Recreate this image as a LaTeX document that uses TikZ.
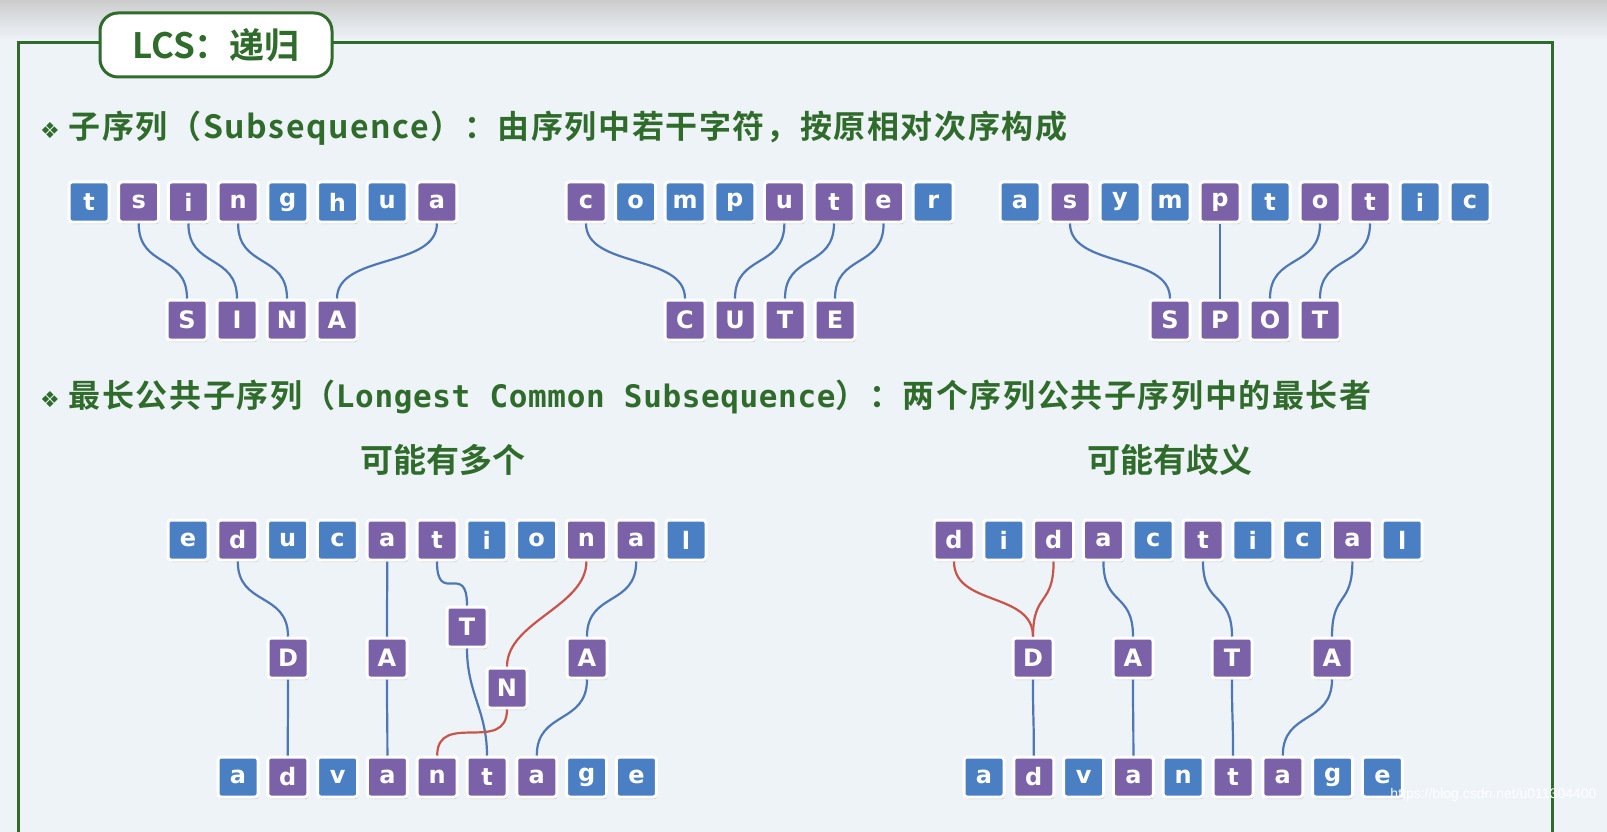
\documentclass[tikz,border=0pt]{standalone}
\usepackage{fontspec}
\setmainfont{Liberation Sans}
\newfontfamily\cjk{Noto Sans CJK SC}[BoldFont={* Bold},LetterSpace=5]
\newfontfamily\cjkt{Noto Sans CJK SC}[BoldFont={* Bold}]
\newfontfamily\dejav{DejaVu Sans}
\newfontfamily\dmono{DejaVu Sans Mono}[LetterSpace=2]
\newfontfamily\tile{DejaVu Sans}
\usetikzlibrary{shadows}
\definecolor{tb}{HTML}{4A7FC4}
\definecolor{tp}{HTML}{7B62A8}
\definecolor{gr}{HTML}{2F6B2A}
\definecolor{bgc}{HTML}{EEF3F8}
\definecolor{lk}{HTML}{4D78B5}
\definecolor{rd}{HTML}{C8544A}
\tikzset{
 x=1pt,y=-1pt,
 tilebox/.style={draw=white,line width=3pt,rounded corners=3pt,minimum width=40pt,minimum height=40pt,inner sep=0pt,
   font=\tile\fontsize{24}{24}\selectfont\bfseries,text=white,drop shadow={shadow xshift=1pt,shadow yshift=-2pt,opacity=0.35}},
 b/.style={tilebox,fill=tb},
 p/.style={tilebox,fill=tp},
 lnk/.style={draw=lk,line width=2.2pt},
 rlnk/.style={draw=rd,line width=2.2pt},
 head/.style={font=\cjk\bfseries\fontsize{32}{32}\selectfont,text=gr,anchor=west,inner sep=0pt},
}
\newcommand{\crv}[3][lnk]{\draw[#1] (#2.south) .. controls +(0,45) and +(0,-45) .. (#3.north);}
\begin{document}
\begin{tikzpicture}
\useasboundingbox (0,0) rectangle (1607,832);
\fill[bgc] (0,0) rectangle (1607,832);
\shade[top color=black!20,bottom color=bgc] (0,0) rectangle (1607,40);
\draw[gr,line width=3pt] (18,832) -- (18,43) -- (1552,43) -- (1552,832);
\node[draw=gr,line width=3pt,fill=white,rounded corners=18pt,minimum width=232pt,minimum height=64pt,
  font=\cjkt\bfseries\fontsize{35}{35}\selectfont,text=gr] (title) at (216,45) {LCS：递归};
\node[head] (h1) at (40,128) {{\dejav\fontsize{22}{22}\selectfont ❖} 子序列（{\fontsize{32}{32}\selectfont Subsequence}）：由序列中若干字符，按原相对次序构成};
\node[head] (h2) at (40,397) {{\dejav\fontsize{22}{22}\selectfont ❖} 最长公共子序列（{\dmono\bfseries\fontsize{31}{31}\selectfont Longest Common Subsequence}）：两个序列公共子序列中的最长者};
\node[head,anchor=center,font=\cjkt\bfseries\fontsize{33}{33}\selectfont] (s1) at (443,460) {可能有多个};
\node[head,anchor=center,font=\cjkt\bfseries\fontsize{33}{33}\selectfont] (s2) at (1170,460) {可能有歧义};
\foreach \ch/\c [count=\i] in {t/b,s/p,i/p,n/p,g/b,h/b,u/b,a/p}
  \node[\c] (ta\i) at ({89+49.7*(\i-1)},202) {\ch};
\foreach \ch [count=\i] in {S,I,N,A}
  \node[p] (tb\i) at ({187+50*(\i-1)},320) {\ch};
\crv{ta2}{tb1}\crv{ta3}{tb2}\crv{ta4}{tb3}\crv{ta8}{tb4}
\foreach \ch/\c [count=\i] in {c/p,o/b,m/b,p/b,u/p,t/p,e/p,r/b}
  \node[\c] (ca\i) at ({586+49.6*(\i-1)},202) {\ch};
\foreach \ch [count=\i] in {C,U,T,E}
  \node[p] (cb\i) at ({685+50*(\i-1)},320) {\ch};
\crv{ca1}{cb1}\crv{ca5}{cb2}\crv{ca6}{cb3}\crv{ca7}{cb4}
\foreach \ch/\c [count=\i] in {a/b,s/p,y/b,m/b,p/p,t/b,o/p,t/p,i/b,c/b}
  \node[\c] (aa\i) at ({1020+50*(\i-1)},202) {\ch};
\foreach \ch [count=\i] in {S,P,O,T}
  \node[p] (ab\i) at ({1170+50*(\i-1)},320) {\ch};
\crv{aa2}{ab1}\crv{aa5}{ab2}\crv{aa7}{ab3}\crv{aa8}{ab4}
\foreach \ch/\c [count=\i] in {e/b,d/p,u/b,c/b,a/p,t/p,i/b,o/b,n/p,a/p,l/b}
  \node[\c] (ea\i) at ({188+49.8*(\i-1)},540) {\ch};
\foreach \ch/\c [count=\i] in {a/b,d/p,v/b,a/p,n/p,t/p,a/p,g/b,e/b}
  \node[\c] (ev\i) at ({238+49.8*(\i-1)},777) {\ch};
\node[p] (eD) at (288,658) {D};
\node[p] (eA) at (387,658) {A};
\node[p] (eT) at (467,627) {T};
\node[p] (eN) at (507,688) {N};
\node[p] (eA2) at (587,658) {A};
\crv{ea2}{eD}\crv{eD}{ev2}
\crv{ea5}{eA}\crv{eA}{ev4}
\crv{ea6}{eT}\crv{eT}{ev6}
\crv[rlnk]{ea9}{eN}\crv[rlnk]{eN}{ev5}
\crv{ea10}{eA2}\crv{eA2}{ev7}
\foreach \ch/\c [count=\i] in {d/p,i/b,d/p,a/p,c/b,t/p,i/b,c/b,a/p,l/b}
  \node[\c] (da\i) at ({954+49.8*(\i-1)},540) {\ch};
\foreach \ch/\c [count=\i] in {a/b,d/p,v/b,a/p,n/b,t/p,a/p,g/b,e/b}
  \node[\c] (dv\i) at ({984+49.8*(\i-1)},777) {\ch};
\node[p] (dD) at (1033,658) {D};
\node[p] (dA) at (1133,658) {A};
\node[p] (dT) at (1232,658) {T};
\node[p] (dA2) at (1332,658) {A};
\crv[rlnk]{da1}{dD}\crv[rlnk]{da3}{dD}\crv{dD}{dv2}
\crv{da4}{dA}\crv{dA}{dv4}
\crv{da6}{dT}\crv{dT}{dv6}
\crv{da9}{dA2}\crv{dA2}{dv7}
\node[font=\fontsize{14}{14}\selectfont,text=white,anchor=east] (wm) at (1600,795) {https://blog.csdn.net/u011304400};
\end{tikzpicture}
\end{document}
